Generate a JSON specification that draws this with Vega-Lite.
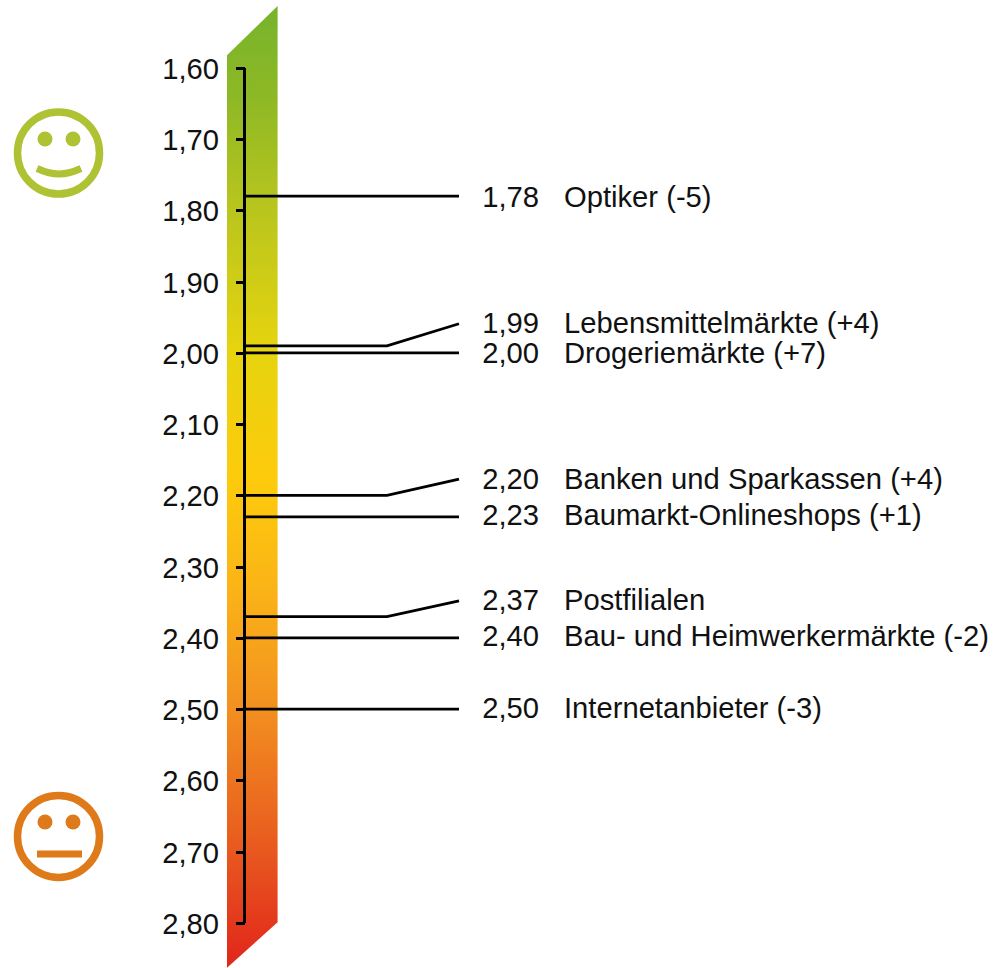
{
"$schema":"https://vega.github.io/schema/vega-lite/v6.json",
"width":993,"height":968,
"autosize":{"type":"fit","contains":"padding"},
"padding":0,
"background":"white",
"config":{"view":{"stroke":null},"font":"Liberation Sans"},
"datasets":{
"band":[{"x":227,"top":1.582,"bottom":2.863},{"x":277.6,"top":1.513,"bottom":2.799}],
"leaders":[
{"item":"Optiker","x":245,"y":1.78},{"item":"Optiker","x":459,"y":1.78},
{"item":"Lebensmittelmärkte","x":245,"y":1.99},{"item":"Lebensmittelmärkte","x":387,"y":1.99},{"item":"Lebensmittelmärkte","x":459,"y":1.959},
{"item":"Drogeriemärkte","x":245,"y":2.0},{"item":"Drogeriemärkte","x":459,"y":2.0},
{"item":"Banken","x":245,"y":2.2},{"item":"Banken","x":387,"y":2.2},{"item":"Banken","x":459,"y":2.177},
{"item":"Baumarkt-Onlineshops","x":245,"y":2.23},{"item":"Baumarkt-Onlineshops","x":459,"y":2.23},
{"item":"Postfilialen","x":245,"y":2.37},{"item":"Postfilialen","x":387,"y":2.37},{"item":"Postfilialen","x":459,"y":2.348},
{"item":"Bau","x":245,"y":2.4},{"item":"Bau","x":459,"y":2.4},
{"item":"Internetanbieter","x":245,"y":2.5},{"item":"Internetanbieter","x":459,"y":2.5}
],
"labels":[
{"x":539,"value":"1,78","name":"Optiker (-5)","y":1.78},
{"x":539,"value":"1,99","name":"Lebensmittelmärkte (+4)","y":1.9565},
{"x":539,"value":"2,00","name":"Drogeriemärkte (+7)","y":1.9985},
{"x":539,"value":"2,20","name":"Banken und Sparkassen (+4)","y":2.1755},
{"x":539,"value":"2,23","name":"Baumarkt-Onlineshops (+1)","y":2.2265},
{"x":539,"value":"2,37","name":"Postfilialen","y":2.3455},
{"x":539,"value":"2,40","name":"Bau- und Heimwerkermärkte (-2)","y":2.3965},
{"x":539,"value":"2,50","name":"Internetanbieter (-3)","y":2.4965}
],
"faces":[{"face":"good","x":58.5,"y":1.7193},{"face":"bad","x":58.5,"y":2.6786}],
"eyes":[{"face":"good","x":45,"y":1.6996},{"face":"good","x":73,"y":1.6996},{"face":"bad","x":45,"y":2.6582},{"face":"bad","x":73,"y":2.6582}],
"mouths":[
{"face":"good","x":37,"y":1.741},{"face":"good","x":48,"y":1.7467},{"face":"good","x":59,"y":1.7488},{"face":"good","x":70,"y":1.7467},{"face":"good","x":81,"y":1.741},
{"face":"bad","x":37,"y":2.7032},{"face":"bad","x":82,"y":2.7032}
]
},
"encoding":{
"x":{"field":"x","type":"quantitative","scale":{"domain":[0,993],"nice":false,"zero":false},"axis":null},
"y":{"field":"y","type":"quantitative","scale":{"domain":[1.5046,2.8632],"nice":false,"zero":false,"reverse":true}}
},
"layer":[
{"data":{"name":"band"},
"mark":{"type":"area","orient":"vertical","interpolate":"linear","color":{"gradient":"linear","x1":0,"y1":0,"x2":0,"y2":1,"stops":[
{"offset":0,"color":"#76b32c"},{"offset":0.1,"color":"#8fb925"},{"offset":0.2,"color":"#b5c41e"},{"offset":0.357,"color":"#e6d40f"},{"offset":0.49,"color":"#fdcb0c"},{"offset":0.6,"color":"#fbb516"},{"offset":0.72,"color":"#f39320"},{"offset":0.86,"color":"#e9601f"},{"offset":1,"color":"#e1251b"}]}},
"encoding":{
"y":{"field":"top","type":"quantitative","scale":{"domain":[1.5046,2.8632],"nice":false,"zero":false,"reverse":true},
"axis":{"title":null,"orient":"left","offset":-244.5,"domain":false,"grid":false,"values":[1.6,1.7,1.8,1.9,2.0,2.1,2.2,2.3,2.4,2.5,2.6,2.7,2.8],"labelExpr":"replace(format(datum.value,'.2f'),'.',',')","labelFontSize":29.2,"labelFont":"Liberation Sans","labelColor":"#111111","labelPadding":17,"labelOffset":1.5,"tickSize":9,"tickWidth":3,"tickColor":"#000000","zindex":1}},
"y2":{"field":"bottom"}}},
{"data":{"values":[{"from":1.6,"to":2.8,"x":244.5}]},"mark":{"type":"rule","color":"#000000","strokeWidth":3},
"encoding":{"y":{"field":"from","type":"quantitative"},"y2":{"field":"to"}}},
{"data":{"name":"leaders"},"mark":{"type":"line","color":"#000000","strokeWidth":2.8,"interpolate":"linear"},
"encoding":{"detail":{"field":"item"},"order":{"field":"x","type":"quantitative"}}},
{"data":{"name":"labels"},"mark":{"type":"text","align":"right","baseline":"middle","dy":2,"fontSize":29.2,"font":"Liberation Sans","color":"#111111"},
"encoding":{"text":{"field":"value"}}},
{"data":{"name":"labels"},"mark":{"type":"text","align":"left","baseline":"middle","dx":25,"dy":2,"fontSize":29.2,"font":"Liberation Sans","color":"#111111"},
"encoding":{"text":{"field":"name"}}},
{"data":{"name":"faces"},"mark":{"type":"point","filled":false,"strokeWidth":7.5,"size":6724,"opacity":1},
"encoding":{"color":{"field":"face","type":"nominal","legend":null,"scale":{"domain":["good","bad"],"range":["#aec234","#df7a1a"]}}}},
{"data":{"name":"eyes"},"mark":{"type":"point","filled":true,"size":225,"opacity":1},
"encoding":{"color":{"field":"face","type":"nominal","legend":null}}},
{"data":{"name":"mouths"},"mark":{"type":"line","strokeWidth":7,"interpolate":"monotone"},
"encoding":{"color":{"field":"face","type":"nominal","legend":null},"order":{"field":"x","type":"quantitative"}}}
]
}
